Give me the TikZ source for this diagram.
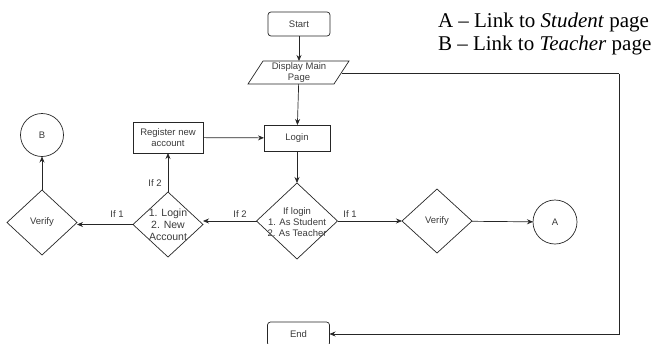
\documentclass[tikz,border=0pt]{standalone}
\usepackage{fontspec}
\setmainfont{Liberation Serif}
\newfontfamily\arialfont{Liberation Sans}
\usetikzlibrary{shapes.geometric,arrows.meta}
\definecolor{linegray}{HTML}{262626}
\definecolor{txtgray}{HTML}{3A3A3A}
\begin{document}
\begin{tikzpicture}[x=1pt,y=-1pt,
  every node/.style={inner sep=0pt, outer sep=0pt},
  lbl/.style={font=\arialfont\fontsize{9.5}{11}\selectfont, text=txtgray, align=center},
  procbox/.style={draw=linegray, line width=0.7pt, lbl},
  termbox/.style={procbox, rounded corners=3pt},
  decis/.style={diamond, draw=linegray, line width=0.7pt, aspect=1},
  connc/.style={circle, draw=linegray, line width=0.7pt, lbl},
  conn/.style={draw=linegray, line width=0.7pt, -{Stealth[length=6pt,width=5pt]}},
  edgelbl/.style={lbl}
]
\useasboundingbox (0,0) rectangle (658,343);

% legend
\node (legA) [anchor=base west, font=\fontsize{21}{23}\selectfont] at (438,27) {A -- Link to \textit{Student} page};
\node (legB) [anchor=base west, font=\fontsize{21}{23}\selectfont] at (438,50) {B -- Link to \textit{Teacher} page};

% nodes
\node (start) [termbox, minimum width=62pt, minimum height=24pt] at (299,24) {Start};
\node (disp) [lbl, minimum width=86pt, minimum height=23pt] at (299,72.5) {Display Main\\Page};
\draw[draw=linegray, line width=0.7pt] (263,61) -- (349,61) -- (334,84) -- (248,84) -- cycle;
\coordinate (dispR) at (341.5,73.5);
\coordinate (rc) at (619,73.5);

\node (login) [procbox, minimum width=66pt, minimum height=26pt] at (297,138) {Login};
\node (reg) [procbox, minimum width=70pt, minimum height=31pt] at (168,137.5) {Register new\\account};

\node (d1) [decis, minimum width=81pt, minimum height=76pt] at (297,221) {};
\node (d1t) [lbl] at (297,222) {If login\\1. As Student\\2. As Teacher};

\node (d2) [decis, minimum width=70pt, minimum height=65pt] at (168,224.5) {};
\node (d2t) [lbl, font=\arialfont\fontsize{10.5}{12}\selectfont] at (168,225) {1. Login\\2. New\\Account};

\node (vL) [decis, minimum width=70pt, minimum height=65pt] at (42,222.5) {};
\node (vLt) [lbl] at (42,222.5) {Verify};

\node (vR) [decis, minimum width=70pt, minimum height=64pt] at (437,221) {};
\node (vRt) [lbl] at (437,221) {Verify};

\node (cA) [connc, minimum size=44pt] at (555,222) {A};
\node (cB) [connc, minimum size=43pt] at (42,135) {B};

\node (endn) [termbox, minimum width=62pt, minimum height=24pt] at (298.5,334) {End};

% connectors
\draw[conn] (start) -- (disp);
\draw[conn] (disp) -- (login);
\draw[conn] (login) -- (d1);
\draw[conn] (reg) -- (login);
\draw[conn] (d1.west) -- (d2.east |- d1.west) coordinate (d2in);
\draw[conn] (d2.north) -- (reg);
\draw[conn] (d2.west) -- (vL.east |- d2.west);
\draw[conn] (vL) -- (cB);
\draw[conn] (d1.east) -- (vR.west);
\draw[conn] (vR) -- (cA);
\draw[draw=linegray, line width=0.7pt] (dispR) -- (rc);
\draw[conn] (rc) |- (endn);

% edge labels
\node (l1) [edgelbl] at (240,214) {If 2};
\node (l2) [edgelbl] at (155,183) {If 2};
\node (l3) [edgelbl] at (117,214) {If 1};
\node (l4) [edgelbl] at (350,214) {If 1};
\end{tikzpicture}
\end{document}
